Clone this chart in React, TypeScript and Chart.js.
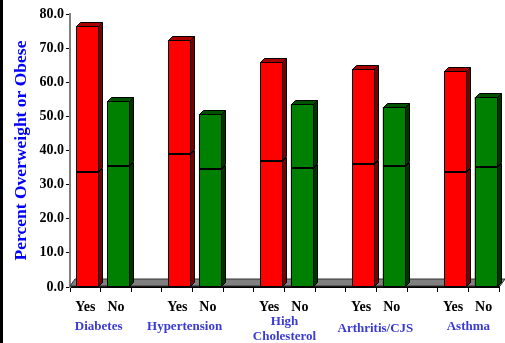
import { useEffect, useRef } from "react";
import { Chart, registerables } from "chart.js";

Chart.register(...registerables);

// ---- data ----
const slotLabels = ["Yes", "No", "", "Yes", "No", "", "Yes", "No", "", "Yes", "No", "", "Yes", "No"];
const groupNames = [["Diabetes"], ["Hypertension"], ["High", "Cholesterol"], ["Arthritis/CJS"], ["Asthma"]];
const obesePct = [33.8, 35.4, null, 39.1, 34.5, null, 37.0, 34.8, null, 35.9, 35.6, null, 33.8, 35.3];
const overweightOrObesePct = [76.5, 54.5, null, 72.4, 50.7, null, 65.9, 53.6, null, 63.9, 52.7, null, 63.3, 55.7];
const yTitle = "Percent Overweight or Obese";
const yMin = 0;
const yMax = 80;
const yStep = 10;

// ---- style / layout ----
const FONT = '"Liberation Serif", "Times New Roman", serif';
const DEPTH = 4;
const SHIFT = 2.5;
const FLOOR_DX = 5;
const FLOOR_DY = 7;
const groupLabelDx = [-2, -8, 0, -1, 0];
const groupLabelDy = [40, 40, 35, 42, 40];

const frontColor = (lab: string) => (lab === "Yes" ? "#FF0000" : "#008000");
const sideColor = (lab: string) => (lab === "Yes" ? "#7A0000" : "#003300");
const topColor = (lab: string) => (lab === "Yes" ? "#A80000" : "#005200");

const overweightOnly = overweightOrObesePct.map((t, i) =>
  t === null || obesePct[i] === null ? null : +(t - (obesePct[i] as number)).toFixed(1)
);

const crisp = (v: number) => Math.round(v) + 0.5;

const bar3d = {
  id: "bar3d",
  beforeDatasetsDraw(chart: any) {
    const { ctx, chartArea, scales } = chart;
    const base = scales.y.getPixelForValue(0);
    ctx.save();
    ctx.fillStyle = "#808080";
    ctx.strokeStyle = "#333";
    ctx.lineWidth = 1;
    ctx.beginPath();
    ctx.moveTo(chartArea.left, base - 1);
    ctx.lineTo(chartArea.right + 1, base - 1);
    ctx.lineTo(chartArea.right + 1 + FLOOR_DX, base - 1 - FLOOR_DY);
    ctx.lineTo(chartArea.left + FLOOR_DX, base - 1 - FLOOR_DY);
    ctx.closePath();
    ctx.fill();
    ctx.stroke();
    ctx.restore();
    ctx.save();
    ctx.translate(SHIFT, 0);
  },
  afterDatasetsDraw(chart: any) {
    const { ctx } = chart;
    ctx.restore();
    const nSets = chart.data.datasets.length;
    for (let d = 0; d < nSets; d++) {
      const meta = chart.getDatasetMeta(d);
      meta.data.forEach((el: any, i: number) => {
        const val = chart.data.datasets[d].data[i];
        if (val === null || val === undefined) return;
        const { x, y, base, width } = el.getProps(["x", "y", "base", "width"], true);
        const lab = slotLabels[i];
        const left = crisp(x - width / 2 + SHIFT);
        const right = crisp(x + width / 2 + SHIFT) - 1;
        const top = crisp(Math.min(y, base));
        const bot = crisp(Math.max(y, base)) - 1;
        ctx.save();
        ctx.lineWidth = 1;
        ctx.strokeStyle = "#000";
        ctx.strokeRect(left, top, right - left, bot - top);
        ctx.fillStyle = sideColor(lab);
        ctx.beginPath();
        ctx.moveTo(right, top);
        ctx.lineTo(right + DEPTH, top - DEPTH);
        ctx.lineTo(right + DEPTH, bot - DEPTH);
        ctx.lineTo(right, bot);
        ctx.closePath();
        ctx.fill();
        ctx.stroke();
        if (d === nSets - 1) {
          ctx.fillStyle = topColor(lab);
          ctx.beginPath();
          ctx.moveTo(left, top);
          ctx.lineTo(left + DEPTH, top - DEPTH);
          ctx.lineTo(right + DEPTH, top - DEPTH);
          ctx.lineTo(right, top);
          ctx.closePath();
          ctx.fill();
          ctx.stroke();
        }
        ctx.restore();
      });
    }
  },
  afterDraw(chart: any) {
    const { ctx, scales } = chart;
    const xs = scales.x;
    const ys = scales.y;
    const base = ys.getPixelForValue(0);
    ctx.save();
    ctx.fillStyle = "#000";
    ctx.fillRect(0, 0, 3, chart.height);
    // y title
    ctx.save();
    ctx.translate(21, (ys.top + ys.bottom) / 2);
    ctx.rotate(-Math.PI / 2);
    ctx.fillStyle = "#0000FF";
    ctx.font = `bold 17.5px ${FONT}`;
    ctx.textAlign = "center";
    ctx.textBaseline = "middle";
    ctx.fillText(yTitle, 0, 0);
    ctx.restore();
    // group labels
    ctx.fillStyle = "#3A3AD6";
    ctx.font = `bold 13px ${FONT}`;
    ctx.textAlign = "center";
    ctx.textBaseline = "middle";
    groupNames.forEach((lines, g) => {
      const cx = (xs.getPixelForValue(g * 3) + xs.getPixelForValue(g * 3 + 1)) / 2 + groupLabelDx[g];
      const cy = base + groupLabelDy[g];
      lines.forEach((ln, k) => ctx.fillText(ln, cx, cy + k * 15));
    });
    ctx.restore();
  },
};

export default function App() {
  const ref = useRef<HTMLCanvasElement | null>(null);
  useEffect(() => {
    if (!ref.current) return;
    const chart = new Chart(ref.current, {
      type: "bar",
      data: {
        labels: slotLabels,
        datasets: [
          {
            label: "Obese",
            data: obesePct,
            backgroundColor: slotLabels.map(frontColor),
            borderWidth: 0,
            barPercentage: 0.75,
            categoryPercentage: 1,
            stack: "s",
          },
          {
            label: "Overweight",
            data: overweightOnly,
            backgroundColor: slotLabels.map(frontColor),
            borderWidth: 0,
            barPercentage: 0.75,
            categoryPercentage: 1,
            stack: "s",
          },
        ],
      } as any,
      options: {
        responsive: false,
        animation: false,
        layout: { padding: { top: 14, right: 6, left: 0, bottom: 0 } },
        plugins: { legend: { display: false }, tooltip: { enabled: false } },
        scales: {
          x: {
            stacked: true,
            offset: true,
            grid: { offset: true, drawOnChartArea: false, drawTicks: true, tickLength: 5, color: "#000" },
            border: { color: "#000", width: 2 },
            ticks: {
              autoSkip: false,
              maxRotation: 0,
              padding: 7,
              color: "#000",
              font: { family: FONT, size: 14, weight: "bold" },
            },
            afterFit: (s: any) => {
              s.height = 56;
            },
          },
          y: {
            stacked: true,
            min: yMin,
            max: yMax,
            grid: { drawOnChartArea: false, drawTicks: true, tickLength: 4, color: "#000" },
            border: { color: "#808080", width: 2 },
            ticks: {
              stepSize: yStep,
              padding: 2,
              color: "#000",
              font: { family: FONT, size: 14, weight: "bold" },
              callback: (v: any) => Number(v).toFixed(1),
            },
            afterFit: (s: any) => {
              s.width = 70;
            },
          },
        },
      } as any,
      plugins: [bar3d],
    });
    return () => chart.destroy();
  }, []);
  return (
    <div style={{ position: "absolute", left: 0, top: 0, width: 505, height: 343, background: "#fff" }}>
      <canvas ref={ref} width={505} height={343} />
    </div>
  );
}
